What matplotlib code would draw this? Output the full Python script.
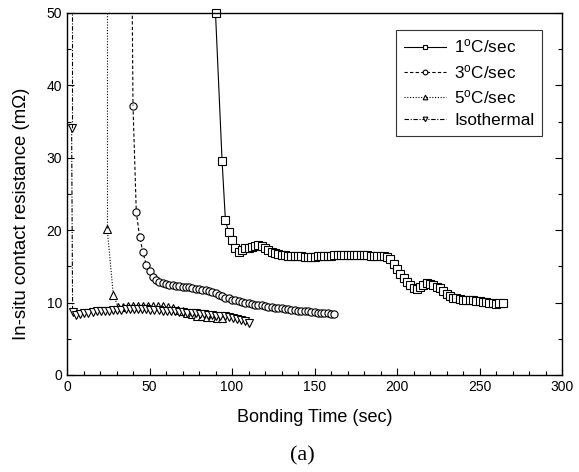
import numpy as np
import matplotlib
matplotlib.use("Agg")
import matplotlib.pyplot as plt

plt.rcParams['font.family'] = ['Liberation Sans', 'DejaVu Sans']
plt.rcParams['mathtext.fontset'] = 'custom'
plt.rcParams['mathtext.rm'] = 'Liberation Sans'
plt.rcParams['mathtext.it'] = 'Liberation Sans:italic'

# ---- data ----
labels = ['1$^\\mathrm{o}$C/sec', '3$^\\mathrm{o}$C/sec', '5$^\\mathrm{o}$C/sec', 'Isothermal']

t1 = [90] + list(np.arange(94, 265, 2))
r1 = [50.0,
      29.5, 21.4, 19.7, 18.6, 17.6, 17.0, 17.3, 17.5, 17.6, 17.7,   # 94-112
      17.8, 17.9, 17.8, 17.6, 17.3, 17.0, 16.8, 16.7, 16.6, 16.6,   # 114-132
      16.5, 16.5, 16.4, 16.4, 16.4, 16.3, 16.3, 16.3, 16.3, 16.4,   # 134-152
      16.4, 16.4, 16.5, 16.5, 16.6, 16.6, 16.6, 16.6, 16.6, 16.6,   # 154-172
      16.6, 16.6, 16.6, 16.6, 16.6, 16.5, 16.5, 16.5, 16.5, 16.4,   # 174-192
      16.3, 16.0, 15.3, 14.6, 14.0, 13.4, 12.9, 12.4, 12.0, 11.9,   # 194-212
      12.1, 12.5, 12.7, 12.6, 12.4, 12.2, 12.0, 11.6, 11.2, 10.9,   # 214-232
      10.7, 10.6, 10.5, 10.4, 10.4, 10.3, 10.3, 10.2, 10.2, 10.1,   # 234-252
      10.1, 10.0, 9.9, 9.8, 9.9, 9.9]                               # 254-264

t2 = list(np.arange(40, 163, 2))
r2 = [37.2, 22.5, 19.1, 17.0, 15.2, 14.3, 13.5, 13.1, 12.8, 12.7,
      12.6, 12.5, 12.4, 12.3, 12.3, 12.2, 12.1, 12.1, 12.0, 11.9,
      11.9, 11.8, 11.7, 11.6, 11.5, 11.3, 11.1, 10.9, 10.7, 10.6,
      10.4, 10.3, 10.2, 10.1, 10.0, 9.9, 9.8, 9.7, 9.6, 9.6,
      9.5, 9.4, 9.4, 9.3, 9.2, 9.2, 9.1, 9.1, 9.0, 9.0,
      8.9, 8.9, 8.8, 8.8, 8.7, 8.7, 8.6, 8.6, 8.5, 8.5,
      8.4, 8.4]

t3 = [24.4, 28.1] + list(np.arange(31, 95, 3))
r3 = [20.1, 11.0,
      9.4, 9.4, 9.5, 9.5, 9.5, 9.5, 9.5, 9.5, 9.5, 9.5,
      9.4, 9.2, 9.0, 8.8, 8.6, 8.4, 8.2, 8.1, 8.0, 8.0,
      7.9, 7.9]

t4 = [2.8, 3.4] + list(np.arange(5.5, 111, 2.5))
r4 = [34.1, 8.7,
      8.3, 8.4, 8.5, 8.6, 8.7, 8.8, 8.8, 8.9, 8.9, 9.0,
      9.0, 9.0, 9.1, 9.1, 9.1, 9.1, 9.1, 9.1, 9.0, 9.0,
      9.0, 8.9, 8.9, 8.8, 8.8, 8.7, 8.7, 8.6, 8.6, 8.5,
      8.4, 8.4, 8.3, 8.3, 8.2, 8.2, 8.1, 8.0, 7.9, 7.8,
      7.6, 7.4, 7.2]

xticks = [0, 50, 100, 150, 200, 250, 300]
yticks = [0, 10, 20, 30, 40, 50]

fig = plt.figure(figsize=(5.79, 4.72), dpi=100)
ax = fig.add_axes([67/579, 1-375/472, (562-67)/579, (375-13)/472])

mk = dict(mfc='white', mec='black', mew=0.8, color='black', lw=0.8, ms=5.2)
ls1 = '-'
ls2 = (0, (3, 2))
ls3 = (0, (1, 1.5))
ls4 = (0, (4, 1.5, 1, 1.5))
ax.plot(t1, r1, ls=ls1, marker='s', label=labels[0], clip_on=False, **mk)
ax.plot(t2, r2, ls=ls2, marker='o', label=labels[1], **mk)
ax.plot(t3, r3, ls=ls3, marker='^', label=labels[2], **mk)
ax.plot(t4, r4, ls=ls4, marker='v', label=labels[3], **mk)
# vertical rises off the top for series
ax.plot([t2[0] - 0.8, t2[0]], [60, r2[0]], ls=ls2, color='black', lw=0.8)
ax.plot([t3[0], t3[0]], [60, r3[0]], ls=ls3, color='black', lw=0.8)
ax.plot([t4[0], t4[0]], [60, r4[0]], ls=ls4, color='black', lw=0.8)

ax.set_xlim(0, 300)
ax.set_ylim(0, 50)
ax.set_xticks(xticks)
ax.set_yticks(yticks)
ax.set_xticks(np.arange(0, 301, 10), minor=True)
ax.set_yticks(np.arange(0, 51, 5), minor=True)
ax.tick_params(which='both', direction='in', top=False, right=True, labelsize=10)
ax.tick_params(which='major', length=5, width=0.8)
ax.tick_params(which='minor', length=3, width=0.8)
for s in ax.spines.values():
    s.set_linewidth(1.0)

ax.set_xlabel('Bonding Time (sec)', fontsize=13, labelpad=11)
ax.set_ylabel('In-situ contact resistance (m\u03a9)', fontsize=13.4)
ax.yaxis.set_label_coords(-0.074, 0.445)

leg = ax.legend(loc='upper right', bbox_to_anchor=(0.9596, 0.953), borderaxespad=0,
                fontsize=12.3, frameon=True, fancybox=False, edgecolor='black',
                handlelength=2.5, handletextpad=0.45, borderpad=0.45,
                labelspacing=0.42, numpoints=1, markerscale=0.65)
leg.get_frame().set_linewidth(0.8)

fig.text(0.523, 1 - 456/472, '(a)', fontsize=16, family='Liberation Serif',
         ha='center', va='center')

fig.savefig('out.png', dpi=100)
